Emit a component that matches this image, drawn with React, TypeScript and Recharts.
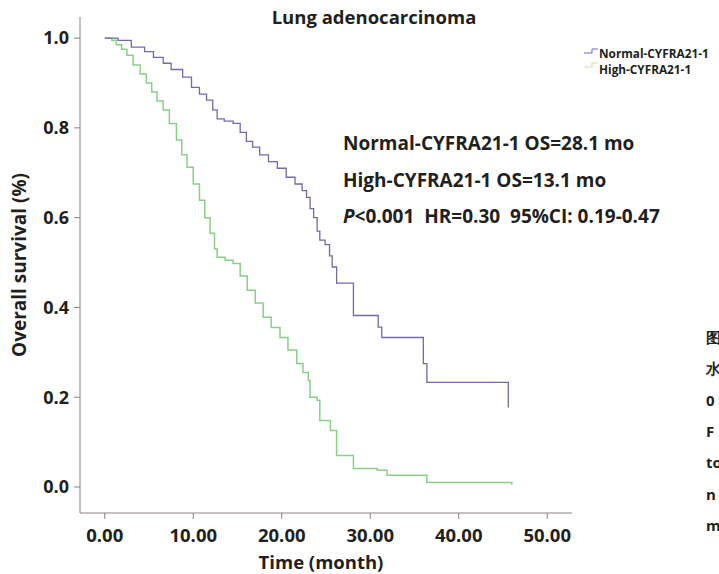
import { LineChart, Line, XAxis, YAxis, Customized, Label } from 'recharts';

const TITLE = 'Lung adenocarcinoma';
const NORMAL_NAME = 'Normal-CYFRA21-1';
const HIGH_NAME = 'High-CYFRA21-1';

const X_TICKS = [0, 10, 20, 30, 40, 50];
const Y_TICKS = [0, 0.2, 0.4, 0.6, 0.8, 1.0];

// survival steps (months, proportion)
const NORMAL_TIME = [0, 1.5, 3.0, 4.5, 5.5, 6.6, 7.5, 8.8, 9.8, 10.7, 11.5, 12.2, 12.7, 13.5, 14.5, 15.3, 16.0, 16.7, 17.5, 18.5, 19.5, 20.5, 21.5, 22.3, 22.8, 23.2, 23.6, 24.0, 24.3, 24.9, 25.4, 25.7, 26.2, 28.1, 30.9, 31.3, 36.0, 36.4, 45.6];
const NORMAL_SURV = [1.0, 0.995, 0.98, 0.97, 0.957, 0.944, 0.93, 0.913, 0.89, 0.875, 0.862, 0.84, 0.82, 0.815, 0.81, 0.79, 0.77, 0.757, 0.74, 0.725, 0.71, 0.69, 0.675, 0.66, 0.645, 0.62, 0.6, 0.57, 0.55, 0.54, 0.515, 0.49, 0.454, 0.382, 0.356, 0.333, 0.275, 0.233, 0.177];

const HIGH_TIME = [0, 0.8, 1.3, 1.9, 2.5, 3.2, 4.0, 4.7, 5.3, 5.9, 6.6, 7.3, 8.1, 8.7, 9.3, 10.0, 10.7, 11.3, 11.9, 12.4, 12.7, 13.6, 14.5, 15.3, 16.1, 17.0, 17.9, 18.8, 19.8, 20.7, 21.7, 22.4, 23.0, 23.2, 24.0, 24.3, 25.5, 26.2, 28.1, 30.8, 31.9, 36.4, 46.0];
const HIGH_SURV = [1.0, 0.995, 0.985, 0.975, 0.962, 0.94, 0.92, 0.9, 0.88, 0.86, 0.84, 0.81, 0.773, 0.74, 0.712, 0.675, 0.639, 0.6, 0.565, 0.53, 0.512, 0.505, 0.498, 0.47, 0.438, 0.41, 0.378, 0.355, 0.333, 0.305, 0.275, 0.255, 0.237, 0.2, 0.193, 0.148, 0.126, 0.07, 0.041, 0.037, 0.026, 0.01, 0.005];

const STATS = ['Normal-CYFRA21-1 OS=28.1 mo', 'High-CYFRA21-1 OS=13.1 mo'];
const STATS_TAIL = '<0.001\u00a0\u00a0HR=0.30\u00a0\u00a095%CI: 0.19-0.47';
const EDGE_TEXT = ['图', '水', '0', 'F', 'to', 'n', 'm'];

const normalData = NORMAL_TIME.map((t, i) => ({ t, s: NORMAL_SURV[i] }));
const highData = HIGH_TIME.map((t, i) => ({ t, s: HIGH_SURV[i] }));

const PURPLE = '#7866ad';
const GREEN = '#88d088';
const AXIS = '#8c817d';
const INK = '#231f20';
const FONT = '"Open Sans", sans-serif';

function Overlay() {
  return (
    <g fontFamily={FONT} fill={INK} fontWeight={700}>
      <text x={374} y={24} textAnchor="middle" fontSize={18.5}>
        {TITLE}
      </text>
      <text x={343} y={150} fontSize={19}>{STATS[0]}</text>
      <text x={343} y={187} fontSize={19}>{STATS[1]}</text>
      <text x={343} y={223} fontSize={19}>
        <tspan fontStyle="italic">P</tspan>
        <tspan>{STATS_TAIL}</tspan>
      </text>
      {/* legend */}
      <path d="M584,53 H592 V49 H598" stroke={PURPLE} fill="none" strokeWidth={1} />
      <path d="M584,67 H592 V63 H598" stroke="#c9e3a6" fill="none" strokeWidth={1.2} />
      <text x={599} y={58} fontSize={11.8}>{NORMAL_NAME}</text>
      <text x={599} y={74} fontSize={11.8}>{HIGH_NAME}</text>
      {EDGE_TEXT.map((s, i) => (
        <text key={i} x={706} y={343 + i * 31.3} fontSize={15}>
          {s}
        </text>
      ))}
    </g>
  );
}

export default function App() {
  return (
    <div style={{ position: 'absolute', left: 0, top: 0, background: '#fff' }}>
      <LineChart
        width={719}
        height={574}
        margin={{ top: 17, right: 147, bottom: 0, left: 0 }}
      >
        <XAxis
          type="number"
          dataKey="t"
          domain={[-2.8, 52.8]}
          ticks={X_TICKS}
          allowDataOverflow
          height={61}
          tickFormatter={(v: number) => v.toFixed(2)}
          stroke={AXIS}
          tickSize={6}
          tickMargin={10}
          tick={{ fill: INK, fontSize: 18.5, fontWeight: 700, fontFamily: FONT }}
        >
          <Label
            value="Time (month)"
            position="insideBottom"
            offset={5}
            dx={-5}
            style={{ fill: INK, fontSize: 18.5, fontWeight: 700, fontFamily: FONT }}
          />
        </XAxis>
        <YAxis
          type="number"
          dataKey="s"
          domain={[-0.058, 1.047]}
          ticks={Y_TICKS}
          allowDataOverflow
          width={80}
          tickFormatter={(v: number) => v.toFixed(1)}
          stroke={AXIS}
          tickSize={6}
          tickMargin={5}
          tick={{ fill: INK, fontSize: 18, fontWeight: 700, fontFamily: FONT }}
        >
          <Label
            value="Overall survival (%)"
            angle={-90}
            position="insideLeft"
            offset={19}
            style={{ textAnchor: 'middle', fill: INK, fontSize: 19, fontWeight: 700, fontFamily: FONT }}
          />
        </YAxis>
        <Line
          data={highData}
          dataKey="s"
          type="stepAfter"
          stroke={GREEN}
          strokeWidth={1.5}
          dot={false}
          isAnimationActive={false}
        />
        <Line
          data={normalData}
          dataKey="s"
          type="stepAfter"
          stroke={PURPLE}
          strokeWidth={1.3}
          dot={false}
          isAnimationActive={false}
        />
        <Customized component={Overlay} />
      </LineChart>
    </div>
  );
}
